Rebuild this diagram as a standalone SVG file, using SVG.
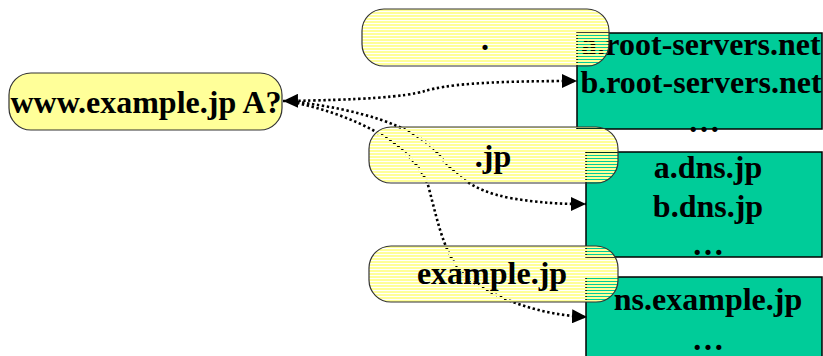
<svg xmlns="http://www.w3.org/2000/svg" width="823" height="356" viewBox="0 0 823 356">
<style>
  .box { fill: #00cc99; stroke: #000; stroke-width: 1.5; }
  .bub { fill: url(#stripes); stroke: #333; stroke-width: 1.2; }
  .bubs { fill: #ffff99; stroke: #333; stroke-width: 1.2; }
  .t { font-family: "Liberation Serif", "Times New Roman", serif; font-weight: bold; font-size: 32px; fill: #000; text-anchor: middle; }
  .c { fill: none; stroke: #000; stroke-width: 2.6; stroke-dasharray: 2.4 2.6; }
</style>
<defs>
  <pattern id="stripes" patternUnits="userSpaceOnUse" x="0" y="0" width="10" height="3">
    <rect x="0" y="0" width="10" height="2" fill="#ffff99"/>
  </pattern>
  <marker id="ah" viewBox="0 0 15 14" refX="15" refY="7" markerWidth="15" markerHeight="14" markerUnits="userSpaceOnUse" orient="auto-start-reverse">
    <path d="M0,0 L15,7 L0,14 Z" fill="#000"/>
  </marker>
</defs>

<g id="root-servers">
  <rect class="box" x="577" y="33" width="245" height="96"/>
  <text class="t" x="701" y="55">a.root-servers.net</text>
  <text class="t" x="701" y="93">b.root-servers.net</text>
  <text class="t" x="704" y="132">…</text>
</g>
<g id="jp-servers">
  <rect class="box" x="586" y="152" width="236" height="105"/>
  <text class="t" x="708" y="178">a.dns.jp</text>
  <text class="t" x="708" y="217">b.dns.jp</text>
  <text class="t" x="708" y="255">…</text>
</g>
<g id="example-servers">
  <rect class="box" x="586" y="277" width="236" height="90"/>
  <text class="t" x="708" y="310">ns.example.jp</text>
  <text class="t" x="708" y="350">…</text>
</g>

<g id="connectors">
  <path class="c" marker-start="url(#ah)" marker-end="url(#ah)" d="M283,101 C360,100 405,97 425,91 C445,85 480,81 577,81"/>
  <path class="c" marker-end="url(#ah)" d="M297,102 C360,110 410,125 435,150 C455,175 470,190 510,198 C540,203 560,204 586,204"/>
  <path class="c" marker-end="url(#ah)" d="M297,103 C350,115 410,140 428,185 C440,230 445,260 470,280 C500,300 540,315 587,317"/>
</g>

<g id="root-zone">
  <rect class="bub" x="362" y="9" width="247" height="57" rx="22" ry="22"/>
  <text class="t" x="485" y="50">.</text>
</g>
<g id="jp-zone">
  <rect class="bub" x="369" y="127" width="249" height="56" rx="22" ry="22"/>
  <text class="t" x="493" y="167">.jp</text>
</g>
<g id="example-zone">
  <rect class="bub" x="369" y="246" width="249" height="56" rx="22" ry="22"/>
  <text class="t" x="492" y="284">example.jp</text>
</g>
<g id="query">
  <rect class="bubs" x="9" y="73" width="273" height="57" rx="22" ry="22"/>
  <text class="t" x="146" y="113">www.example.jp A?</text>
</g>
</svg>
